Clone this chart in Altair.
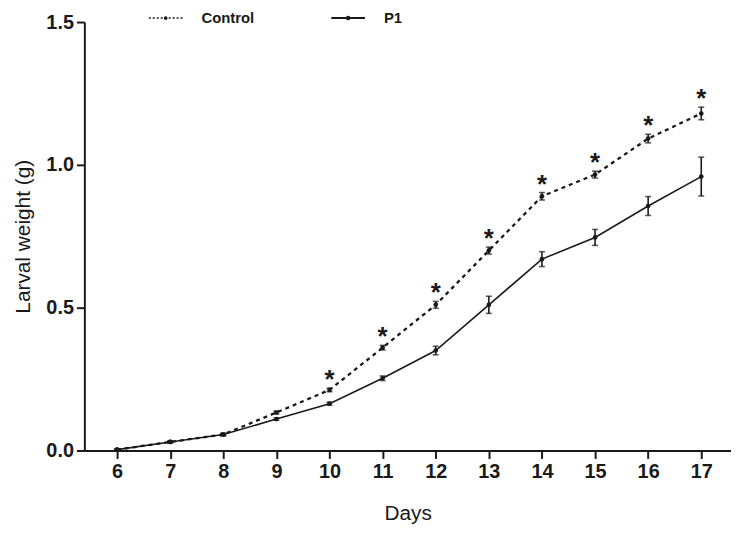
import altair as alt
import pandas as pd

days = [6, 7, 8, 9, 10, 11, 12, 13, 14, 15, 16, 17]
control = [0.003, 0.030, 0.056, 0.133, 0.212, 0.360, 0.510, 0.700, 0.890, 0.966, 1.092, 1.180]
control_sem = [0.002, 0.003, 0.004, 0.005, 0.006, 0.008, 0.012, 0.012, 0.013, 0.012, 0.015, 0.022]
p1 = [0.003, 0.030, 0.056, 0.110, 0.164, 0.253, 0.350, 0.510, 0.670, 0.746, 0.856, 0.959]
p1_sem = [0.002, 0.003, 0.004, 0.004, 0.005, 0.008, 0.015, 0.030, 0.026, 0.028, 0.033, 0.068]
significant_days = [10, 11, 12, 13, 14, 15, 16, 17]

rows = []
for d, m, s in zip(days, control, control_sem):
    rows.append({"day": d, "group": "Control", "mean": m, "lo": m - s, "hi": m + s,
                 "star": d in significant_days})
for d, m, s in zip(days, p1, p1_sem):
    rows.append({"day": d, "group": "P1", "mean": m, "lo": m - s, "hi": m + s, "star": False})
df = pd.DataFrame(rows)
ctrl = df[df.group == "Control"]
trt = df[df.group == "P1"]
stars = ctrl[ctrl.star]

INK = "#1a1a1a"
FONT = "Liberation Sans"

xscale = alt.Scale(domain=[5.384, 17.56], nice=False, zero=False)
yscale = alt.Scale(domain=[0, 1.5], nice=False)

x = alt.X("day:Q", scale=xscale,
          axis=alt.Axis(title="Days", values=days, format="d", grid=False))
y = alt.Y("mean:Q", scale=yscale,
          axis=alt.Axis(title="Larval weight (g)", values=[0, 0.5, 1.0, 1.5], format=".1f", grid=False))

line_ctrl = alt.Chart(ctrl).mark_line(color=INK, strokeWidth=2.3, strokeDash=[4, 4]).encode(x=x, y=y)
line_trt = alt.Chart(trt).mark_line(color=INK, strokeWidth=1.6).encode(x=x, y=y)

pts = alt.Chart(df).mark_point(filled=True, color=INK, size=22, opacity=1).encode(x=x, y=y)

err = alt.Chart(df).mark_rule(color=INK, strokeWidth=1.6).encode(
    x="day:Q", y=alt.Y("lo:Q", scale=yscale), y2="hi:Q")
cap_lo = alt.Chart(df).mark_point(shape="stroke", color=INK, size=36, strokeWidth=1.6).encode(
    x="day:Q", y=alt.Y("lo:Q", scale=yscale))
cap_hi = alt.Chart(df).mark_point(shape="stroke", color=INK, size=36, strokeWidth=1.6).encode(
    x="day:Q", y=alt.Y("hi:Q", scale=yscale))

star_mark = alt.Chart(stars).mark_text(text="*", font=FONT, fontSize=26, fontWeight="bold",
                                       color=INK, baseline="middle", dy=-8).encode(
    x="day:Q", y=alt.Y("hi:Q", scale=yscale))

# manual legend (layout only)
leg = pd.DataFrame({"k": [0]})
LY = -4
lg_ctrl_line = alt.Chart(leg).mark_rule(color=INK, strokeWidth=1.5, strokeDash=[2, 2]).encode(
    x=alt.value(65), x2=alt.value(99), y=alt.value(LY))
lg_ctrl_dot = alt.Chart(leg).mark_point(filled=True, color=INK, size=14, opacity=1).encode(
    x=alt.value(82), y=alt.value(LY))
lg_ctrl_txt = alt.Chart(leg).mark_text(text="Control", font=FONT, fontSize=15, fontWeight="bold",
                                       color=INK, align="left", baseline="middle").encode(
    x=alt.value(118), y=alt.value(LY))
lg_p1_line = alt.Chart(leg).mark_rule(color=INK, strokeWidth=2).encode(
    x=alt.value(249), x2=alt.value(283), y=alt.value(LY))
lg_p1_dot = alt.Chart(leg).mark_point(filled=True, color=INK, size=20, opacity=1).encode(
    x=alt.value(266), y=alt.value(LY))
lg_p1_txt = alt.Chart(leg).mark_text(text="P1", font=FONT, fontSize=15, fontWeight="bold",
                                     color=INK, align="left", baseline="middle").encode(
    x=alt.value(302), y=alt.value(LY))

chart = alt.layer(
    line_ctrl, line_trt, err, cap_lo, cap_hi, pts, star_mark,
    lg_ctrl_line, lg_ctrl_dot, lg_ctrl_txt, lg_p1_line, lg_p1_dot, lg_p1_txt
).properties(
    width=652, height=432,
    autosize=alt.AutoSizeParams(type="none"),
    padding={"left": 77, "top": 12, "right": 0, "bottom": 79},
).configure_view(stroke=None).configure_axis(
    domainColor=INK, domainWidth=2, tickColor=INK, tickWidth=2, tickSize=8,
    labelFont=FONT, labelFontSize=20, labelFontWeight="bold", labelColor=INK, labelPadding=3,
    titleFont=FONT, titleFontSize=21, titleFontWeight="normal", titleColor=INK,
).configure_axisX(titlePadding=22).configure_axisY(titlePadding=13)

chart.save("out.html", embed_options={"renderer": "svg", "actions": False})
